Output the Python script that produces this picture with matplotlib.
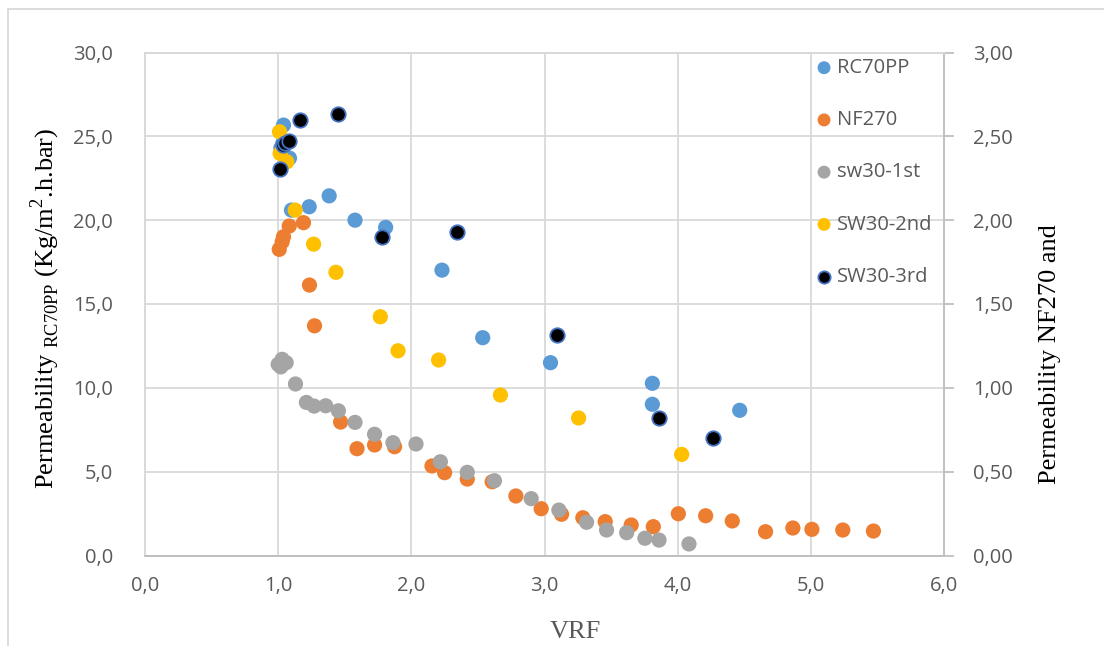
import matplotlib
matplotlib.use("Agg")
import matplotlib.pyplot as plt
from matplotlib.ticker import FuncFormatter, MultipleLocator
from matplotlib.patches import Rectangle

# ---- data ----
rc70_x = [1.02, 1.035, 1.04, 1.085, 1.10, 1.233, 1.383, 1.577, 1.807, 2.23, 2.536, 3.045, 3.81, 3.81, 4.466]
rc70_y = [24.3, 24.6, 25.67, 23.7, 20.6, 20.8, 21.45, 20.0, 19.57, 17.02, 12.99, 11.5, 10.27, 9.02, 8.66]

nf270_x = [1.008, 1.03, 1.04, 1.083, 1.19, 1.235, 1.273, 1.469, 1.592, 1.724, 1.874, 2.155, 2.25, 2.42,
           2.607, 2.785, 2.975, 3.128, 3.288, 3.456, 3.651, 3.817, 4.005, 4.21, 4.41, 4.66, 4.865, 5.008,
           5.24, 5.47]
nf270_y = [1.826, 1.871, 1.901, 1.965, 1.985, 1.613, 1.370, 0.796, 0.637, 0.659, 0.649, 0.534, 0.494,
           0.456, 0.440, 0.355, 0.279, 0.246, 0.225, 0.202, 0.182, 0.172, 0.249, 0.237, 0.206, 0.142,
           0.164, 0.156, 0.152, 0.146]

sw1_x = [1.00, 1.02, 1.03, 1.06, 1.13, 1.212, 1.27, 1.357, 1.452, 1.577, 1.724, 1.862, 2.035, 2.218,
         2.42, 2.624, 2.90, 3.108, 3.316, 3.466, 3.617, 3.754, 3.86, 4.085]
sw1_y = [1.14, 1.125, 1.17, 1.15, 1.023, 0.913, 0.891, 0.893, 0.863, 0.794, 0.723, 0.673, 0.665, 0.559,
         0.496, 0.446, 0.339, 0.271, 0.198, 0.152, 0.136, 0.103, 0.092, 0.069]

sw2_x = [1.01, 1.015, 1.065, 1.128, 1.266, 1.434, 1.767, 1.90, 2.205, 2.669, 3.256, 4.03]
sw2_y = [2.527, 2.398, 2.348, 2.06, 1.857, 1.689, 1.424, 1.221, 1.166, 0.957, 0.82, 0.603]

sw3_x = [1.015, 1.035, 1.053, 1.078, 1.165, 1.449, 1.782, 2.343, 3.095, 3.86, 4.266]
sw3_y = [2.305, 2.448, 2.458, 2.474, 2.597, 2.633, 1.897, 1.929, 1.315, 0.818, 0.699]

labels = ["RC70PP", "NF270", "sw30-1st", "SW30-2nd", "SW30-3rd"]

# ---- style ----
TICK_FONT = "Open Sans"
SERIF = "Liberation Serif"
GRID = "#D9D9D9"
AXIS = "#BFBFBF"
TXT = "#595959"
S = 120

fig = plt.figure(figsize=(11.04, 6.46), dpi=100)
fig.patch.set_facecolor("white")
W, H = 1104, 646
ax = fig.add_axes([145 / W, 1 - 555.5 / H, (944 - 145) / W, (555.5 - 52.5) / H])
ax2 = ax.twinx()

ax.set_xlim(0, 6)
ax.set_ylim(0, 30)
ax2.set_ylim(0, 3)
ax.xaxis.set_major_locator(MultipleLocator(1))
ax.yaxis.set_major_locator(MultipleLocator(5))
ax2.yaxis.set_major_locator(MultipleLocator(0.5))

ax.xaxis.set_major_formatter(FuncFormatter(lambda v, _: f"{v:.1f}".replace(".", ",")))
ax.yaxis.set_major_formatter(FuncFormatter(lambda v, _: f"{v:.1f}".replace(".", ",")))
ax2.yaxis.set_major_formatter(FuncFormatter(lambda v, _: f"{v:.2f}".replace(".", ",")))

ax.grid(True, color=GRID, linewidth=1.3)
ax.set_axisbelow(True)

for a in (ax, ax2):
    for sp in a.spines.values():
        sp.set_color(GRID)
        sp.set_linewidth(1.3)
ax.spines["bottom"].set_color(AXIS)
ax2.spines["bottom"].set_color(AXIS)
ax2.spines["right"].set_color(AXIS)

ax.tick_params(axis="x", length=0, pad=15, labelsize=14.5, labelcolor=TXT)
ax.tick_params(axis="y", length=0, pad=23, labelsize=14.5, labelcolor=TXT)
ax2.tick_params(axis="y", length=7, width=1.3, color=AXIS, pad=14, labelsize=14.5, labelcolor=TXT)
for t in ax.get_xticklabels() + ax.get_yticklabels() + ax2.get_yticklabels():
    t.set_fontfamily(TICK_FONT)

h1 = ax.scatter(rc70_x, rc70_y, s=S, color="#5B9BD5", edgecolors="none", zorder=3, label=labels[0])
h2 = ax2.scatter(nf270_x, nf270_y, s=S, color="#ED7D31", edgecolors="none", zorder=3, label=labels[1])
h3 = ax2.scatter(sw1_x, sw1_y, s=S, color="#A5A5A5", edgecolors="none", zorder=4, label=labels[2])
h4 = ax2.scatter(sw2_x, sw2_y, s=S, color="#FFC000", edgecolors="none", zorder=5, label=labels[3])
h5 = ax2.scatter(sw3_x, sw3_y, s=S * 0.9, color="black", edgecolors="#4472C4", linewidths=1.3,
                 zorder=6, label=labels[4])

leg = ax2.legend(handles=[h1, h2, h3, h4, h5], loc="upper left",
                 bbox_to_anchor=(818 / W, 1 - 58 / H), bbox_transform=fig.transFigure,
                 frameon=False, handlelength=0.6, handletextpad=0.35, labelspacing=1.6,
                 borderpad=0, borderaxespad=0, markerscale=0.85,
                 prop={"family": TICK_FONT, "size": 14.5})
for t in leg.get_texts():
    t.set_color(TXT)

fig.text(575 / W, 1 - 632 / H, "VRF", family=SERIF, fontsize=19, color=TXT,
         ha="center", va="center")
fig.text(45 / W, 1 - 489 / H,
         r"Permeability $_{\mathregular{RC70PP}}$ (Kg/m$^{\mathregular{2}}$.h.bar)",
         family=SERIF, fontsize=19, color="black", rotation=90, ha="center", va="bottom")
fig.text(1050 / W, 1 - 484 / H, "Permeability NF270 and", family=SERIF, fontsize=19,
         color="black", rotation=90, ha="center", va="bottom")

fig.add_artist(Rectangle((8 / W, -0.1), 1.2, 1 - 9 / H + 0.1, transform=fig.transFigure,
                         fill=False, edgecolor=GRID, linewidth=1.3, clip_on=False))

fig.savefig("out.png", dpi=100, facecolor="white")
